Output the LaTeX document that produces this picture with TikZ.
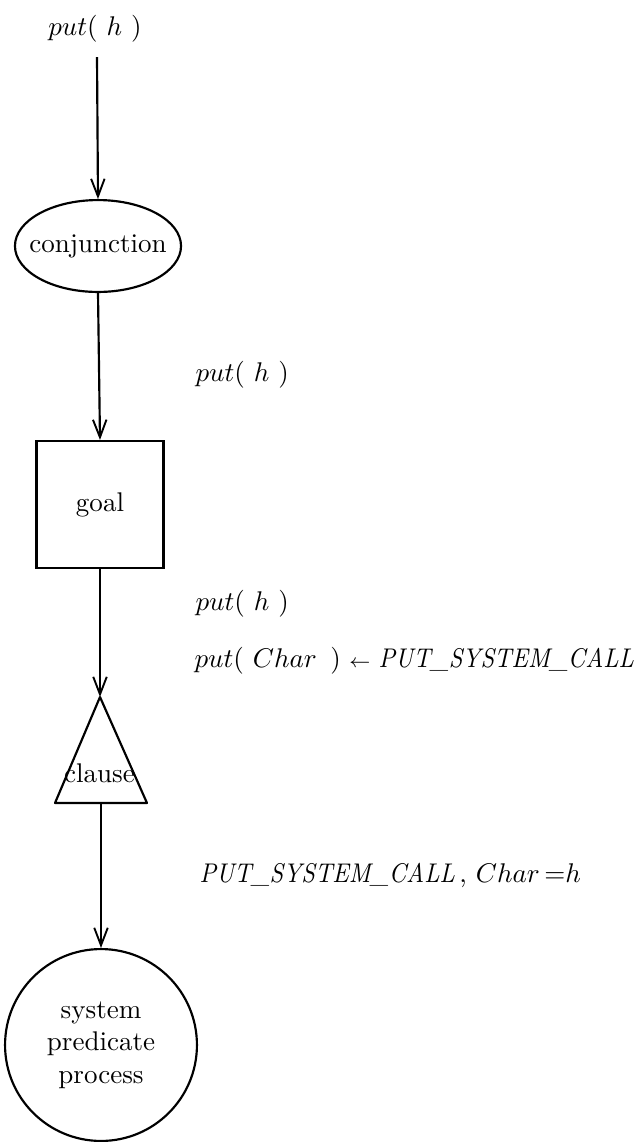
\documentclass[tikz,border=0pt]{standalone}
\usetikzlibrary{arrows.meta,shapes.geometric}
\newcommand{\sysname}{\scalebox{0.9}[1]{\textit{PUT\_SYSTEM\_CALL}}}
\begin{document}
\begin{tikzpicture}[x=0.37pt,y=-0.37pt,
  every node/.style={font=\fontsize{10}{12}\selectfont},
  flow/.style={line width=0.8pt,-{Straight Barb[length=6.5pt,width=5pt,line width=0.7pt]}},
  shapeline/.style={draw,line width=0.8pt,inner sep=0pt},
  lbl/.style={anchor=west,inner sep=0pt},
]
\useasboundingbox (0,0) rectangle (642,1142);

% message labels
\node (m0) at (95,29) {$put(\ h\ )$};
\coordinate (src) at (97,57);
\node[lbl] (m1) at (195,375) {$put(\ h\ )$};
\node[lbl] (m2) at (195,604) {$put(\ h\ )$};
\node[lbl] (m3) at (194,661) {$put(\ Char\ \,)$\hspace{0.3em}{\scriptsize$\leftarrow$}\hspace{0.3em}\sysname};
\node[lbl] (m4) at (199,875) {\sysname\,, $Char\,{=}h$};

% process nodes
\node[shapeline,ellipse,inner xsep=-3.7pt,minimum height=34pt] (conj) at (98,246) {conjunction};
\node[shapeline,rectangle,minimum width=47pt,minimum height=47pt] (goal) at (100,504.5) {goal};

% clause triangle
\coordinate (tritop) at (100,697);
\coordinate (trileft) at (55,803);
\coordinate (triright) at (147,803);
\coordinate (tribot) at (101,803);
\draw[line width=0.8pt,line join=round] (tritop) -- (triright) -- (trileft) -- cycle;
\node (clause) at (99.5,773) {clause};

\node[shapeline,circle,minimum size=71pt,align=center] (sys) at (101,1045) {system\\predicate\\process};

% connectors
\draw[flow] (src) -- (conj.north);
\draw[flow] (conj.south) -- (goal.north);
\draw[flow] (goal.south) -- (tritop);
\draw[flow] (tribot) -- (sys.north);
\end{tikzpicture}
\end{document}
